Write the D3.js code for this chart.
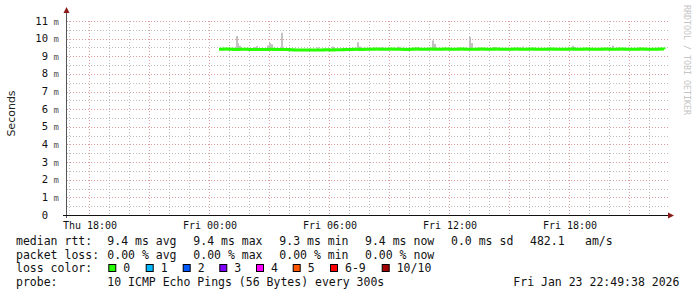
<!DOCTYPE html>
<html>
<head>
<meta charset="utf-8">
<script src="https://cdn.jsdelivr.net/npm/d3@7.9.0/dist/d3.min.js"></script>
<style>
  body { margin: 0; background: #fff; }
  svg { display: block; }
  .mono { font-family: "DejaVu Sans Mono", monospace; }
</style>
</head>
<body>
<svg id="chart" width="697" height="297"></svg>
<script>
// median rtt in ms, every 15 min from Fri 00:30 to Fri 22:45
const medianStart = new Date(2026, 0, 23, 0, 30);
const median = [
  9.40, 9.41, 9.40, 9.39, 9.40, 9.40, 9.38, 9.39,
  9.38, 9.39, 9.40, 9.39, 9.38, 9.39, 9.37, 9.36,
  9.35, 9.35, 9.36, 9.35, 9.36, 9.37, 9.36, 9.37,
  9.37, 9.38, 9.39, 9.40, 9.39, 9.40, 9.40, 9.41,
  9.40, 9.40, 9.41, 9.40, 9.40, 9.39, 9.40, 9.41,
  9.40, 9.40, 9.41, 9.40, 9.40, 9.41, 9.40, 9.40,
  9.41, 9.40, 9.40, 9.40, 9.41, 9.40, 9.40, 9.41,
  9.40, 9.40, 9.40, 9.41, 9.40, 9.40, 9.41, 9.40,
  9.40, 9.40, 9.41, 9.40, 9.40, 9.40, 9.41, 9.40,
  9.40, 9.41, 9.40, 9.40, 9.40, 9.41, 9.40, 9.40,
  9.41, 9.40, 9.40, 9.40, 9.41, 9.40, 9.40, 9.40,
  9.41, 9.40
];

// smoke spikes: Fri time, top of ping spread (ms)
const spikeTimes = ["01:20","01:25","01:30","02:15","02:20","02:55","03:00","03:05","03:35","03:40",
  "05:25","06:10","07:00","07:25","07:30","08:00","08:35","08:40","09:25","09:30","10:20",
  "11:10","11:15","12:30","13:00","13:05","14:10","14:15","15:40","17:00","18:10","18:15",
  "20:10","21:30"];
const spikeTops = [10.15, 9.75, 9.60, 9.52, 9.58, 9.62, 9.75, 9.68, 10.33, 9.55,
  9.50, 9.55, 9.50, 9.80, 9.55, 9.52, 9.52, 9.50, 9.55, 9.52, 9.50,
  9.90, 9.70, 9.50, 10.10, 9.75, 9.50, 9.52, 9.55, 9.50, 9.60, 9.52,
  9.60, 9.50];

const yTicks = [0, 1, 2, 3, 4, 5, 6, 7, 8, 9, 10, 11];

const lossLabels = ["0", "1", "2", "3", "4", "5", "6-9", "10/10"];
const lossColors = ["#26ff00", "#00b8ff", "#0059ff", "#7e00ff", "#ff00ff", "#ff5500", "#ff0000", "#a10000"];

const svg = d3.select("#chart");

const x = d3.scaleTime()
  .domain([new Date(2026, 0, 22, 16, 54), new Date(2026, 0, 23, 23, 0)])
  .range([67, 669]);
const y = d3.scaleLinear().domain([0, 11]).range([215, 21]);

// grid
const g = svg.append("g");
const hours = d3.timeHour.range(x.domain()[0], x.domain()[1]);
g.selectAll(".vg").data(hours).join("line")
  .attr("x1", d => Math.round(x(d)) + 0.5).attr("x2", d => Math.round(x(d)) + 0.5)
  .attr("y1", 21).attr("y2", 215)
  .attr("stroke", d => d.getHours() % 3 === 0 ? "#dc9c9c" : "#bdbdbd")
  .attr("stroke-dasharray", "1,2");
const halves = d3.range(0.5, 11.01, 0.5);
g.selectAll(".hg").data(halves).join("line")
  .attr("x1", 67).attr("x2", 669)
  .attr("y1", d => Math.round(y(d)) + 0.5).attr("y2", d => Math.round(y(d)) + 0.5)
  .attr("stroke", d => d % 1 === 0 ? "#dc9c9c" : "#bdbdbd")
  .attr("stroke-dasharray", "1,2");

// smoke spikes
const parseFri = t => {
  const [h, m] = t.split(":").map(Number);
  return new Date(2026, 0, 23, h, m);
};
svg.append("g").selectAll("rect").data(spikeTimes).join("rect")
  .attr("x", d => Math.round(x(parseFri(d))))
  .attr("width", 2)
  .attr("y", (d, i) => y(spikeTops[i]))
  .attr("height", (d, i) => y(9.38) - y(spikeTops[i]))
  .attr("fill", "#c2c2c2");

// median line
const medTimes = median.map((v, i) => new Date(+medianStart + i * 15 * 60 * 1000));
svg.append("path")
  .datum(median)
  .attr("fill", "none")
  .attr("stroke", lossColors[0])
  .attr("stroke-width", 3)
  .attr("d", d3.line().x((d, i) => x(medTimes[i])).y(d => y(d)).curve(d3.curveStepAfter));

// axes
svg.append("line").attr("x1", 66.5).attr("x2", 66.5).attr("y1", 12).attr("y2", 218)
  .attr("stroke", "#555");
svg.append("line").attr("x1", 63).attr("x2", 670).attr("y1", 215.5).attr("y2", 215.5)
  .attr("stroke", "#111");
svg.append("path").attr("d", "M63.5,13 L66.5,7 L69.5,13 Z").attr("fill", "#8b1a1a");
svg.append("path").attr("d", "M668,212.5 L674,215.5 L668,218.5 Z").attr("fill", "#8b1a1a");

// y labels
const yl = svg.append("g").attr("class", "mono");
yl.selectAll(".num").data(yTicks).join("text")
  .attr("x", 48).attr("y", d => y(d) + 3.5)
  .attr("text-anchor", "end").attr("font-size", 10.5).attr("fill", "#111")
  .text(d => d);
yl.selectAll(".unit").data(yTicks.filter(d => d > 0)).join("text")
  .attr("x", 53.5).attr("y", d => y(d) + 3.5)
  .attr("font-size", 9).attr("fill", "#555")
  .text("m");

// x labels
const xTicks = x.ticks(d3.timeHour.every(6));
svg.append("g").attr("class", "mono").selectAll("text").data(xTicks).join("text")
  .attr("x", d => x(d) + 1).attr("y", 228.5)
  .attr("text-anchor", "middle").attr("font-size", 10).attr("fill", "#111")
  .text(d3.timeFormat("%a %H:%M"));

// y title
svg.append("text")
  .attr("transform", "translate(14.5,113.5) rotate(-90)")
  .attr("text-anchor", "middle")
  .attr("font-family", "DejaVu Sans, sans-serif").attr("font-size", 11)
  .attr("fill", "#222")
  .text("Seconds");

// watermark
svg.append("text")
  .attr("class", "mono")
  .attr("transform", "translate(684,5) rotate(90)")
  .attr("font-size", 8.3).attr("fill", "#c4c4c4")
  .text("RRDTOOL / TOBI OETIKER");

// legend
const legendRows = [
  [[16, "median rtt:"], [107.3, "9.4 ms avg"], [193.3, "9.4 ms max"], [279.3, "9.3 ms min"],
   [365, "9.4 ms now"], [451, "0.0 ms sd"], [530, "482.1"], [585, "am/s"]],
  [[16, "packet loss:"], [107.3, "0.00 % avg"], [193.3, "0.00 % max"], [279.3, "0.00 % min"],
   [365, "0.00 % now"]],
  [[16, "loss color:"]],
  [[16, "probe:"], [107.3, "10 ICMP Echo Pings (56 Bytes) every 300s"], [513.3, "Fri Jan 23 22:49:38 2026"]]
];
const rowY = [245, 258.5, 272, 285.5];
const lg = svg.append("g").attr("class", "mono").attr("font-size", 11.5).attr("fill", "#111");
legendRows.forEach((row, r) => {
  row.forEach(([lx, t]) => {
    lg.append("text").attr("x", lx).attr("y", rowY[r]).attr("xml:space", "preserve").text(t);
  });
});
const boxX = [108.3, 145.7, 182.7, 219.3, 256, 292.7, 330, 381.7];
lossLabels.forEach((lab, i) => {
  lg.append("rect").attr("x", boxX[i] + 0.5).attr("y", 264.5).attr("width", 7).attr("height", 7)
    .attr("fill", lossColors[i]).attr("stroke", "#000").attr("stroke-width", 1);
  lg.append("text").attr("x", boxX[i] + 15).attr("y", rowY[2]).text(lab);
});
</script>
</body>
</html>
